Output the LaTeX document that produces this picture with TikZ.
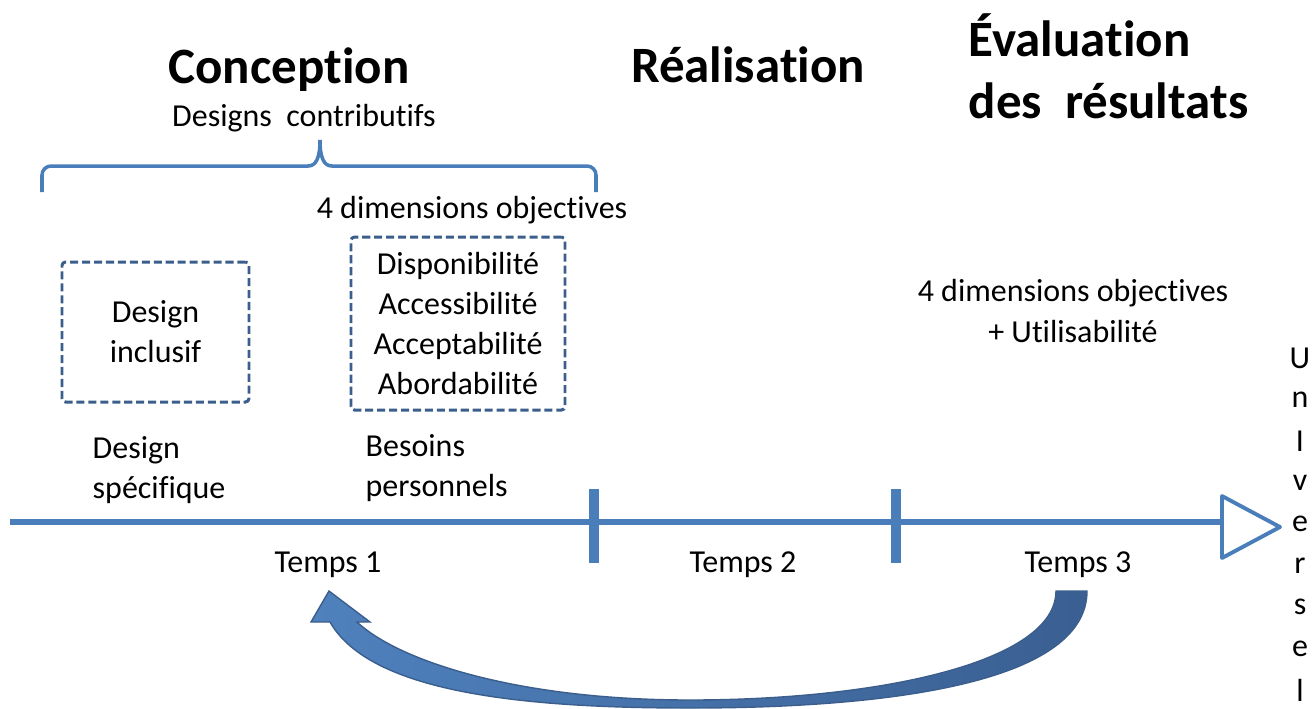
\documentclass[tikz,border=0pt]{standalone}
\usepackage{fontspec}
\setmainfont{Carlito}[Ligatures=NoCommon]
\usetikzlibrary{decorations.pathreplacing}
\definecolor{lineblue}{HTML}{4A7EBB}
\definecolor{boxblue}{HTML}{3B5E8C}
\definecolor{arrowlight}{HTML}{4F81BD}
\definecolor{arrowdark}{HTML}{3A5F92}

\begin{document}
\begin{tikzpicture}[x=0.1mm, y=-0.1mm,
    every node/.style={font=\fontsize{9.1}{11.4}\selectfont, inner sep=0pt},
    title/.style={font=\fontsize{14.5}{17.6}\selectfont\bfseries},
    dashbox/.style={draw=boxblue, line width=0.85pt, dash pattern=on 2.3pt off 1.1pt, rounded corners=1pt}]
    \useasboundingbox (0,0) rectangle (1314,708);

    \node[title] (conc) at (289,70) {Conception};
    \node (contrib) at (304,118) {Designs\ \ contributifs};
    \node[title] (real) at (748,65) {Réalisation};
    \node[title, align=left, anchor=west] (eval) at (968,66) {Évaluation\\des\ \ résultats};

    % brace over the conception phase
    \draw[lineblue, line width=1pt]
        (42,192) -- (42,175) to[out=90,in=180] (51,166) -- (308,166)
        .. controls (316,166) and (320,158) .. (320,140)
        .. controls (320,158) and (324,166) .. (332,166)
        -- (587,166) to[out=0,in=90] (596,175) -- (596,192);

    \node (dimtop) at (472,210) {4 dimensions objectives};
    \node[dashbox, minimum width=18.7mm, minimum height=14mm, align=center] (incl)
        at (155.5,332) {Design\\inclusif};
    \node[dashbox, minimum width=21.4mm, minimum height=17.3mm, align=center] (dims)
        at (458,323.5) {Disponibilité\\Accessibilité\\Acceptabilité\\Abordabilité};
    \node[align=left, anchor=west] (spec) at (92,470) {Design\\spécifique};
    \node[align=left, anchor=west] (besoins) at (365,468) {Besoins\\personnels};
    \node[align=center] (dimright) at (1073,311) {4 dimensions objectives\\+ Utilisabilité};

    % time axis
    \coordinate (start) at (10,522);
    \coordinate (end) at (1222,522);
    \draw[lineblue, line width=1.7pt] (start) -- (end);
    \draw[lineblue, line width=1.1pt, fill=white, line join=round]
        (1222,496) -- (1280,527) -- (1222,558) -- cycle;
    \foreach \x in {594,896}
        \draw[lineblue, line width=2.85pt] (\x,489) -- (\x,563);

    \node (t1) at (328,565) {Temps 1};
    \node (t2) at (743,565) {Temps 2};
    \node (t3) at (1078,565) {Temps 3};

    \foreach \l [count=\i] in {U,n,I,v,e,r,s,e,l}
        \node (u\i) at (1300,{358+41.5*(\i-1)}) {\l};

    % back arrow
    \draw[draw=boxblue, line width=0.4pt, left color=arrowlight, right color=arrowdark]
        (330,622) .. controls (370,692) and (520,708) .. (690,708)
        .. controls (900,708) and (1087,680) .. (1087,591) -- (1056,591)
        .. controls (1056,662) and (880,700) .. (690,700)
        .. controls (520,700) and (400,662) .. (357,622)
        -- (370,622) -- (329,591) -- (311,622) -- cycle;
\end{tikzpicture}
\end{document}
